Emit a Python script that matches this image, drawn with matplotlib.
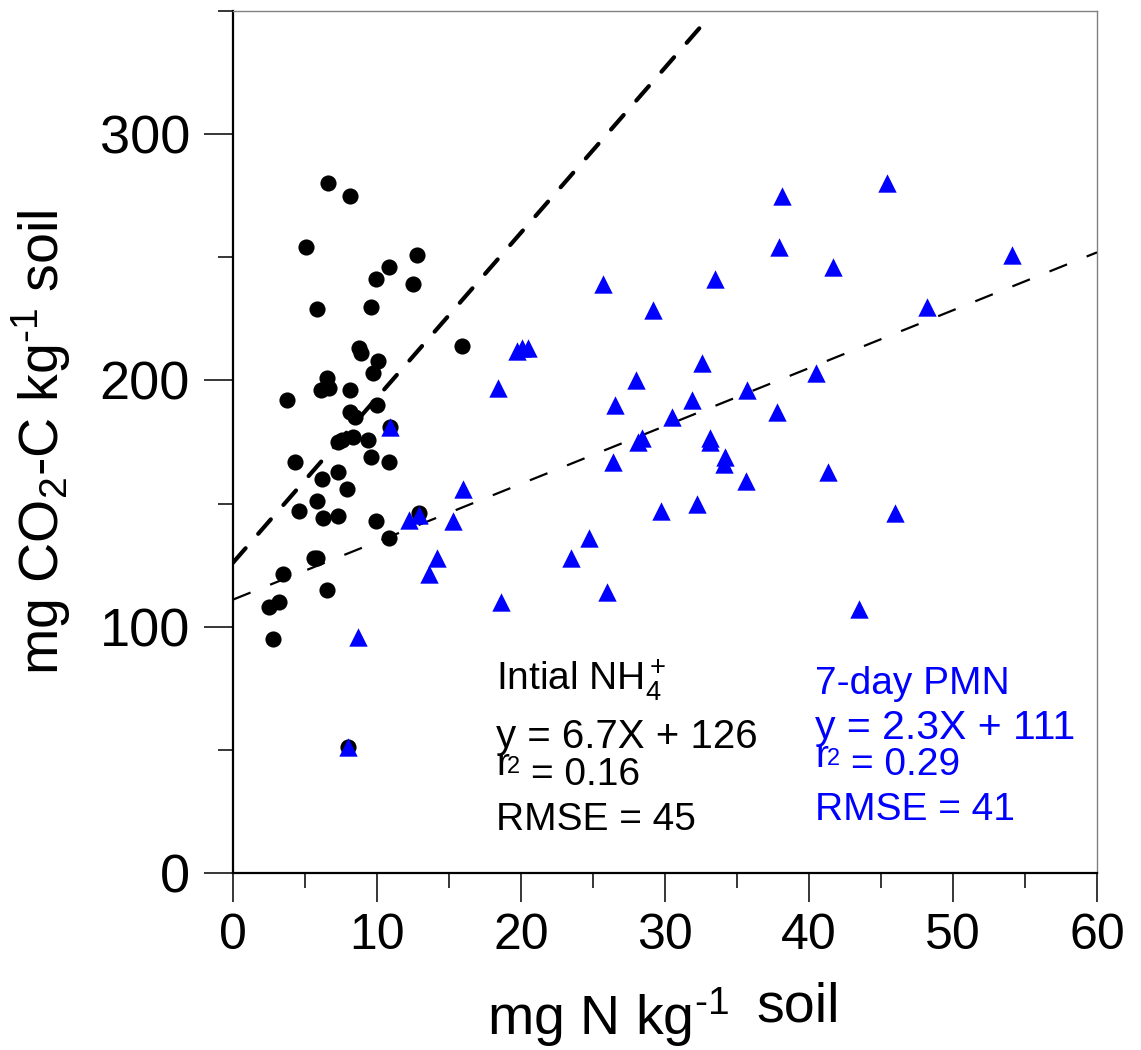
import matplotlib
matplotlib.use("Agg")
import matplotlib.pyplot as plt
from matplotlib.ticker import MultipleLocator
import numpy as np

plt.rcParams['font.family'] = ['Liberation Sans', 'DejaVu Sans']
plt.rcParams['mathtext.fontset'] = 'custom'
plt.rcParams['mathtext.rm'] = 'Liberation Sans'
plt.rcParams['mathtext.it'] = 'Liberation Sans'
plt.rcParams['mathtext.default'] = 'regular'

# Initial NH4+ (black circles)
nh4_x = [6.6, 8.1, 5.1, 12.8, 10.8, 9.9, 12.5, 9.6, 5.8, 15.9,
         8.75, 8.9, 10.1, 9.7, 6.5, 6.1, 6.7, 8.1, 3.75, 10.0,
         8.1, 8.5, 10.9, 7.6, 8.3, 7.3, 9.4, 9.6, 4.3, 10.8,
         7.3, 6.2, 7.9, 5.8, 4.6, 6.25, 7.3, 9.9, 12.9, 10.8,
         5.6, 5.8, 3.5, 6.5, 3.2, 2.5, 2.8, 8.0]
nh4_y = [280, 275, 254, 251, 246, 241, 239, 230, 229, 214,
         213, 211, 208, 203, 201, 196, 197, 196, 192, 190,
         187, 185, 181, 176, 177, 175, 176, 169, 167, 167,
         163, 160, 156, 151, 147, 144, 145, 143, 146, 136,
         128, 128, 121.5, 115, 110, 108, 95, 51]

# 7-day PMN (blue triangles)
pmn_x = [38.1, 45.4, 37.9, 54.1, 41.7, 33.5, 25.7, 29.2, 48.2, 20.1,
         20.5, 19.7, 32.6, 40.5, 28.0, 18.4, 35.7, 31.9, 26.5, 37.8,
         30.5, 10.9, 28.4, 28.1, 33.1, 33.1, 34.2, 34.1, 26.4, 41.3,
         35.6, 16.0, 32.2, 29.7, 46.0, 12.2, 12.9, 15.3, 24.7, 23.5,
         14.2, 13.6, 26.0, 18.6, 43.5, 8.7, 8.0]
pmn_y = [275, 280, 254, 251, 246, 241, 239, 228.5, 230, 213,
         213, 212, 207, 203, 200, 197, 196, 192, 190, 187,
         185, 181, 176.5, 175, 176.5, 175, 169, 166, 167, 163,
         159, 156, 150, 147, 146, 143.5, 145.5, 143, 136, 128,
         128, 121.5, 114, 110, 107, 96, 51]

# regression lines (slope, intercept)
nh4_fit = (6.7, 126)
pmn_fit = (2.35, 111)

W, H = 1141, 1050
fig = plt.figure(figsize=(W / 100, H / 100), dpi=100)
ax = fig.add_axes([233 / W, 177 / H, 864 / W, 862 / H])


def px(x, y):
    return x / W, 1 - y / H


ax.scatter(nh4_x, nh4_y, s=135, marker='o', color='black', linewidths=0, zorder=3)
ax.scatter(pmn_x, pmn_y, s=175, marker='^', color='#0000ff', linewidths=0, zorder=4)

# fitted lines
xs = np.array([0, (348 - nh4_fit[1]) / nh4_fit[0]])
ax.plot(xs, nh4_fit[0] * xs + nh4_fit[1], color='black', lw=3.0,
        dashes=(4.6, 4.6), dash_capstyle='round', zorder=5)
xs2 = np.array([0, 60])
ax.plot(xs2, pmn_fit[0] * xs2 + pmn_fit[1], color='black', lw=1.6,
        dashes=(8.5, 9.5), zorder=3.5)

ax.set_xlim(0, 60)
ax.set_ylim(0, 350)
ax.xaxis.set_major_locator(MultipleLocator(10))
ax.xaxis.set_minor_locator(MultipleLocator(5))
ax.yaxis.set_major_locator(MultipleLocator(100))
ax.yaxis.set_minor_locator(MultipleLocator(50))
ax.tick_params(which='major', direction='out', length=21, width=1.1, labelsize=36, pad=8)
ax.tick_params(which='minor', direction='out', length=11, width=1.1)
ax.tick_params(axis='y', labelsize=39, pad=10)

for side in ['left', 'bottom']:
    ax.spines[side].set_linewidth(1.6)
    ax.spines[side].set_color('black')
for side in ['top', 'right']:
    ax.spines[side].set_linewidth(1.0)
    ax.spines[side].set_color('#808080')

ax.set_ylabel('mg CO$_2$-C kg$^{\u2010 1}$ soil', fontsize=40)
ax.yaxis.set_label_coords(-0.185, 0.5)

# x label, "soil" sits a little higher as in the original
fig.text(*px(487, 1035), 'mg N kg$^{\u20101}$', fontsize=40, va='baseline', ha='left')
fig.text(*px(756, 1021), 'soil', fontsize=40, va='baseline', ha='left')

# annotations: initial NH4+
k = 'black'
fig.text(*px(496, 690), 'Intial NH$_4^+$', fontsize=28, color=k, va='baseline')
fig.text(*px(496, 748), 'y = 6.7X + 126', fontsize=29, color=k, va='baseline')
fig.text(*px(496, 775), 'r', fontsize=28, color=k, va='baseline')
fig.text(*px(507, 773), '2', fontsize=17, color=k, va='baseline')
fig.text(*px(531, 785), '= 0.16', fontsize=28, color=k, va='baseline')
fig.text(*px(496, 830), 'RMSE = 45', fontsize=28, color=k, va='baseline')

# annotations: 7-day PMN
b = '#0000ff'
fig.text(*px(815, 694), '7-day PMN', fontsize=28, color=b, va='baseline')
fig.text(*px(815, 739), 'y = 2.3X + 111', fontsize=29.5, color=b, va='baseline')
fig.text(*px(815, 767), 'r', fontsize=28, color=b, va='baseline')
fig.text(*px(827, 765), '2', fontsize=17, color=b, va='baseline')
fig.text(*px(851, 775), '= 0.29', fontsize=28, color=b, va='baseline')
fig.text(*px(815, 820), 'RMSE = 41', fontsize=28, color=b, va='baseline')

fig.savefig('out.png', dpi=100)
